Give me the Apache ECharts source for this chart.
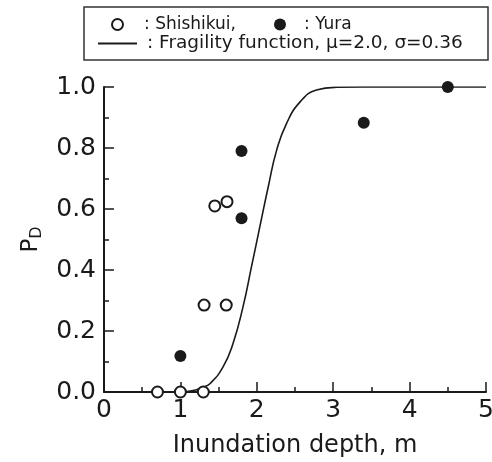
<!DOCTYPE html>
<html>
<head>
<meta charset="utf-8">
<script src="https://cdn.jsdelivr.net/npm/echarts@6/dist/echarts.min.js"></script>
<style>
  html, body { margin: 0; padding: 0; background: #fff; }
  #main { width: 492px; height: 462px; }
</style>
</head>
<body>
<div id="main"></div>
<script>
// observed damage ratios (depth in m, P_D)
var shishikuiDepth = [0.7, 1.0, 1.3, 1.31, 1.6, 1.45, 1.61];
var shishikuiProb  = [0.0, 0.0, 0.0, 0.285, 0.285, 0.61, 0.624];
var yuraDepth = [1.0, 1.8, 1.8, 3.4, 4.5];
var yuraProb  = [0.118, 0.57, 0.79, 0.883, 1.0];

// fragility curve
var curveDepth = [0, 1.0, 1.13, 1.3, 1.39, 1.56, 1.69, 1.82, 1.93, 2.04, 2.15, 2.26, 2.39, 2.57, 2.78, 3.05, 3.4, 5.0];
var curveProb  = [0, 0, 0.003, 0.016, 0.028, 0.083, 0.16, 0.28, 0.41, 0.542, 0.673, 0.793, 0.881, 0.952, 0.99, 0.999, 1.0, 1.0];

var xTicks = [0, 1, 2, 3, 4, 5];
var yTicks = [0, 0.2, 0.4, 0.6, 0.8, 1.0];

function pairs(xs, ys) {
  var out = [];
  for (var i = 0; i < xs.length; i++) out.push([xs[i], ys[i]]);
  return out;
}

var ink = '#1a1a1a';
var font = 'DejaVu Sans';
var chart = echarts.init(document.getElementById('main'), null, { renderer: 'canvas' });

var option = {
  backgroundColor: '#ffffff',
  animation: false,
  textStyle: { fontFamily: font, color: ink },
  grid: { left: 104, right: 6, top: 87, bottom: 70, outerBoundsMode: 'none' },
  graphic: [{
    type: 'rect',
    shape: { x: 84, y: 7, width: 404, height: 53 },
    style: { fill: 'none', stroke: '#333', lineWidth: 1.5 },
    silent: true
  }],
  legend: [
    {
      data: ['Shishikui'], left: 106, top: 11, itemWidth: 43, itemHeight: 11, itemGap: 0,
      formatter: function () { return ': Shishikui,'; },
      textStyle: { fontFamily: font, fontSize: 17, color: ink }
    },
    {
      data: ['Yura'], left: 269, top: 11, itemWidth: 38, itemHeight: 12, itemGap: 0,
      formatter: function () { return ': Yura'; },
      textStyle: { fontFamily: font, fontSize: 17, color: ink }
    },
    {
      data: [{ name: 'Fragility', icon: 'rect' }], left: 93, top: 29, itemWidth: 39, itemHeight: 2, itemGap: 0,
      formatter: function () { return ': Fragility function, \u03bc=2.0, \u03c3=0.36'; },
      textStyle: { fontFamily: font, fontSize: 18.5, color: ink, padding: [0, 0, 0, 5] }
    }
  ],
  xAxis: {
    type: 'value', min: 0, max: 5, interval: 1,
    name: 'Inundation depth, m', nameLocation: 'middle', nameGap: 42,
    nameTextStyle: { fontFamily: font, fontSize: 24, color: ink },
    axisLine: { onZero: false, lineStyle: { color: ink, width: 2 } },
    axisTick: { inside: true, length: 10, lineStyle: { color: ink, width: 1.5 } },
    minorTick: { show: true, splitNumber: 2, length: 5, lineStyle: { color: ink, width: 1.5 } },
    axisLabel: {
      margin: 6, fontFamily: font, fontSize: 25, color: ink,
      customValues: xTicks,
      formatter: function (v) { return String(v); }
    },
    splitLine: { show: false }
  },
  yAxis: {
    type: 'value', min: 0, max: 1, interval: 0.2,
    name: '{p|P}{d|D}', nameLocation: 'middle', nameGap: 58, nameRotate: 90,
    nameTextStyle: {
      fontFamily: font, color: ink,
      rich: {
        p: { fontFamily: font, fontSize: 23, color: ink },
        d: { fontFamily: font, fontSize: 16, color: ink, padding: [12, 0, 0, 0] }
      }
    },
    axisLine: { onZero: false, lineStyle: { color: ink, width: 2 } },
    axisTick: { inside: true, length: 10, lineStyle: { color: ink, width: 1.5 } },
    minorTick: { show: true, splitNumber: 2, length: 5, lineStyle: { color: ink, width: 1.5 } },
    axisLabel: {
      margin: 8, fontFamily: font, fontSize: 25, color: ink,
      customValues: yTicks,
      formatter: function (v) { return v.toFixed(1); }
    },
    splitLine: { show: false }
  },
  series: [
    {
      name: 'Fragility', type: 'line',
      data: pairs(curveDepth, curveProb),
      smooth: 0.5,
      symbol: 'none', showSymbol: false,
      lineStyle: { color: ink, width: 1.6 },
      itemStyle: { color: ink },
      z: 3
    },
    {
      name: 'Shishikui', type: 'scatter',
      data: pairs(shishikuiDepth, shishikuiProb),
      symbol: 'emptyCircle', symbolSize: 11, clip: false,
      itemStyle: { color: ink, borderColor: ink, borderWidth: 1.5, opacity: 1 },
      z: 4
    },
    {
      name: 'Yura', type: 'scatter',
      data: pairs(yuraDepth, yuraProb),
      symbol: 'circle', symbolSize: 12, clip: false,
      itemStyle: { color: ink, opacity: 1 },
      z: 4
    }
  ]
};

chart.setOption(option);
</script>
</body>
</html>
